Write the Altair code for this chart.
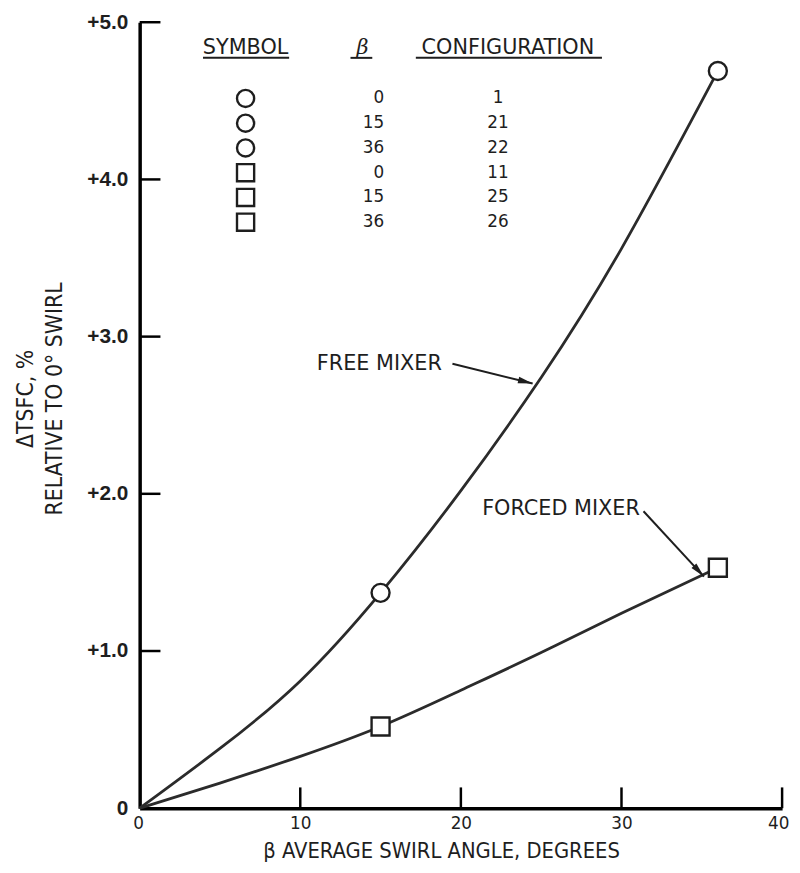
import math
import altair as alt
import pandas as pd

# ---------------- data ----------------
free_x = [0, 5, 10, 15, 20, 25, 30, 36]
free_y = [0, 0.38, 0.81, 1.37, 2.02, 2.74, 3.56, 4.69]
forced_x = [0, 5, 10, 15, 20, 25, 30, 36]
forced_y = [0, 0.16, 0.33, 0.52, 0.75, 0.99, 1.24, 1.53]

free_pts_x = [15, 36]
free_pts_y = [1.37, 4.69]
forced_pts_x = [15, 36]
forced_pts_y = [0.52, 1.53]

legend_headers = ["SYMBOL", "β", "CONFIGURATION"]
legend_symbols = ["circle", "circle", "circle", "square", "square", "square"]
legend_beta = ["0", "15", "36", "0", "15", "36"]
legend_config = ["1", "21", "22", "11", "25", "26"]

curve_labels = ["FREE MIXER", "FORCED MIXER"]

x_ticks = [0, 10, 20, 30, 40]
y_ticks = [0, 1, 2, 3, 4, 5]

# ---------------- layout helpers ----------------
PX0, PY0 = 141, 18          # page position of plot top-left
W, H = 649, 794
XMAX, YMAX = 40, 5.0
PAD = {"left": PX0 - 8, "top": PY0 - 8, "right": 784 - (PX0 - 8) - W + 8, "bottom": 857 - (PY0 - 8) - H}


def dx(px):
    return (px - PX0) / W * XMAX


def dy(py):
    return (PY0 + H - py) / H * YMAX


SANS = "Liberation Sans, Arial, Helvetica, sans-serif"
WIDE = "DejaVu Sans, Verdana, sans-serif"
COND = "DejaVu Sans Condensed, Liberation Sans Narrow, sans-serif"
INK = "#1e1e1e"

xs = alt.Scale(domain=[0, XMAX], nice=False, zero=False)
ys = alt.Scale(domain=[0, YMAX], nice=False, zero=False)

x_axis = alt.Axis(
    values=x_ticks, tickSize=0, grid=False, domainWidth=3.5, domainColor="black",
    labelFont=WIDE, labelFontSize=17, labelColor=INK, labelPadding=8,
    labelFlush=True, labelFlushOffset=7, labelOverlap=False,
    title="β AVERAGE SWIRL ANGLE, DEGREES", titleFont=COND, titleFontSize=22,
    titleFontWeight="normal", titleColor=INK, titleBaseline="alphabetic", titleY=50,
    titleX=W / 2 - 20,
)
y_axis = alt.Axis(
    values=y_ticks, tickSize=0, grid=False, domainWidth=3.5, domainColor="black",
    labelFont=SANS, labelFontSize=21, labelFontWeight="bold", labelColor=INK,
    labelPadding=12, labelFlush=False, labelOverlap=False,
    labelExpr="datum.value == 0 ? '0' : '+' + format(datum.value, '.1f')",
    title=["ΔTSFC, %", "RELATIVE TO 0° SWIRL"], titleFont=COND, titleFontSize=23,
    titleFontWeight="normal", titleColor=INK, titleAngle=-90, titleAlign="center",
    titleBaseline="alphabetic", titleLineHeight=29, titleX=-108, titleY=380,
)


def X(field):
    return alt.X(field, scale=xs, axis=x_axis)


def Y(field):
    return alt.Y(field, scale=ys, axis=y_axis)


def XD(value):
    return alt.datum(value, scale=xs, axis=x_axis)


# ---------------- curves ----------------
lines_df = pd.concat([
    pd.DataFrame({"x": free_x, "y": free_y, "s": "free"}),
    pd.DataFrame({"x": forced_x, "y": forced_y, "s": "forced"}),
])
lines = alt.Chart(lines_df).mark_line(
    interpolate="natural", strokeWidth=2.8, color="#2b2b2b"
).encode(x=X("x:Q"), y=Y("y:Q"), detail="s:N")

shape_scale = alt.Scale(domain=["circle", "square"], range=["circle", "square"])

pts_df = pd.concat([
    pd.DataFrame({"x": free_pts_x, "y": free_pts_y, "shape": "circle"}),
    pd.DataFrame({"x": forced_pts_x, "y": forced_pts_y, "shape": "square"}),
])
pts = alt.Chart(pts_df).mark_point(
    filled=False, fill="white", fillOpacity=1, stroke=INK, strokeWidth=2.4, size=330, opacity=1
).encode(x=X("x:Q"), y=Y("y:Q"), shape=alt.Shape("shape:N", scale=shape_scale, legend=None))

# ---------------- inward ticks ----------------
TICK = 21
yt_df = pd.DataFrame({"x": 0, "x2": dx(PX0 + TICK), "y": y_ticks[1:]})
yticks = alt.Chart(yt_df).mark_rule(strokeWidth=2.5, color="black").encode(
    x=X("x:Q"), x2="x2:Q", y=Y("y:Q")
)
xt_df = pd.DataFrame({"x": x_ticks[1:], "y": 0, "y2": dy(PY0 + H - TICK)})
xticks = alt.Chart(xt_df).mark_rule(strokeWidth=2.5, color="black").encode(
    x=X("x:Q"), y=Y("y:Q"), y2="y2:Q"
)

# ---------------- legend table ----------------
HEAD_PY = 50
head_df = pd.DataFrame({
    "t": legend_headers,
    "x": [dx(248), dx(366), dx(513)],
    "y": dy(HEAD_PY),
    "style": ["normal", "italic", "normal"],
})
heads_n = alt.Chart(head_df[head_df["style"] == "normal"]).mark_text(
    font=WIDE, fontSize=21, color=INK, baseline="alphabetic", align="center"
).encode(x=X("x:Q"), y=Y("y:Q"), text="t:N")
heads_i = alt.Chart(head_df[head_df["style"] == "italic"]).mark_text(
    font="DejaVu Serif, serif", fontSize=21, fontStyle="italic", color=INK, baseline="alphabetic", align="center"
).encode(x=X("x:Q"), y=Y("y:Q"), text="t:N")

ul_df = pd.DataFrame({
    "x": [dx(205), dx(354), dx(420)],
    "x2": [dx(292), dx(376), dx(608)],
    "y": dy(HEAD_PY + 4),
})
underlines = alt.Chart(ul_df).mark_rule(strokeWidth=2, color=INK).encode(
    x=X("x:Q"), x2="x2:Q", y=Y("y:Q")
)

ROW0, ROWSTEP = 95, 25
rows_df = pd.DataFrame({
    "shape": legend_symbols,
    "beta": legend_beta,
    "cfg": legend_config,
    "y": [dy(ROW0 + ROWSTEP * i) for i in range(len(legend_symbols))],
})
leg_sym = alt.Chart(rows_df).mark_point(
    filled=False, fill="white", fillOpacity=1, stroke=INK, strokeWidth=2.4, size=300, opacity=1
).encode(
    x=XD(dx(248)), y=Y("y:Q"),
    shape=alt.Shape("shape:N", scale=shape_scale, legend=None),
)
leg_beta = alt.Chart(rows_df).mark_text(
    font=WIDE, fontSize=17, color=INK, align="right", baseline="middle"
).encode(x=XD(dx(388)), y=Y("y:Q"), text="beta:N")
leg_cfg = alt.Chart(rows_df).mark_text(
    font=WIDE, fontSize=17, color=INK, align="center", baseline="middle"
).encode(x=XD(dx(503)), y=Y("y:Q"), text="cfg:N")

# ---------------- curve labels and arrows ----------------
lab_df = pd.DataFrame({
    "t": curve_labels,
    "x": [dx(320), dx(487)],
    "y": [dy(363), dy(510)],
})
labels = alt.Chart(lab_df).mark_text(
    font=WIDE, fontSize=21, color=INK, align="left", baseline="middle"
).encode(x=X("x:Q"), y=Y("y:Q"), text="t:N")

arrows_px = [((457, 363), (538, 383)), ((650, 512), (711, 578))]
arr_df = pd.DataFrame({
    "x": [dx(a[0][0]) for a in arrows_px],
    "y": [dy(a[0][1]) for a in arrows_px],
    "x2": [dx(a[1][0]) for a in arrows_px],
    "y2": [dy(a[1][1]) for a in arrows_px],
    "ang": [math.degrees(math.atan2(a[1][0] - a[0][0], -(a[1][1] - a[0][1]))) for a in arrows_px],
})
shafts = alt.Chart(arr_df).mark_rule(strokeWidth=2, color=INK).encode(
    x=X("x:Q"), y=Y("y:Q"), x2="x2:Q", y2="y2:Q"
)
heads = alt.Chart(arr_df).mark_point(
    shape="M0,0L-0.45,2L0.45,2Z", filled=True, color=INK, size=220, opacity=1
).encode(x=X("x2:Q"), y=Y("y2:Q"), angle=alt.Angle("ang:Q", scale=None))

chart = alt.layer(
    lines, yticks, xticks, pts, underlines, heads_n, heads_i, leg_sym, leg_beta, leg_cfg,
    labels, shafts, heads,
).properties(
    width=W, height=H, autosize=alt.AutoSizeParams(type="none"), padding=PAD,
    background="white",
).configure_view(stroke=None)

chart.save("out.html", embed_options={"renderer": "svg", "actions": False})
